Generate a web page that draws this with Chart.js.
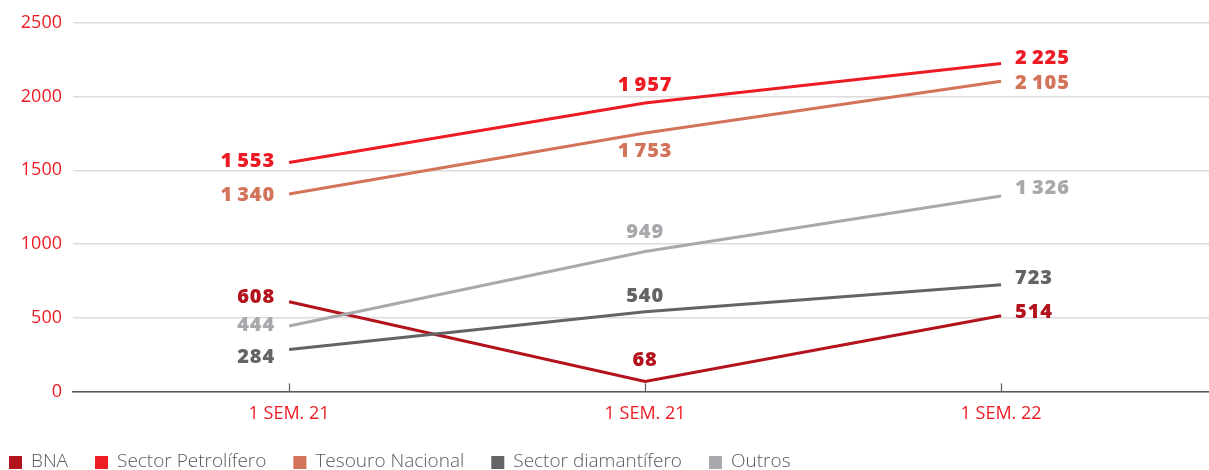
<!DOCTYPE html>
<html>
<head>
<meta charset="utf-8">
<script src="https://cdn.jsdelivr.net/npm/chart.js@4"></script>
<style>
html,body{margin:0;padding:0;background:#fff;}
#wrap{width:1209px;height:470px;position:relative;}
</style>
</head>
<body>
<div id="wrap"><canvas id="c" width="1209" height="470"></canvas></div>
<script>
// ---- data ----
const categories = ["1 SEM. 21", "1 SEM. 21", "1 SEM. 22"];
const seriesNames = ["BNA", "Sector Petrolífero", "Tesouro Nacional", "Sector diamantífero", "Outros"];
const bna = [608, 68, 514];
const petrolifero = [1553, 1957, 2225];
const tesouro = [1340, 1753, 2105];
const diamantifero = [284, 540, 723];
const outros = [444, 949, 1326];
const yTicks = [0, 500, 1000, 1500, 2000, 2500];

// ---- styles ----
const colors = ["#b3131c", "#ed1c24", "#d2735a", "#636466", "#a7a9ac"];
const FONT = "'Open Sans', Lato, sans-serif";
// label placement per dataset per point: [dx, dy, align]
const labelPlacement = [
  [[-14, -5, "right"], [0, -21, "center"], [14, -3, "left"]],
  [[-14, -1, "right"], [0, -18, "center"], [14, -5, "left"]],
  [[-14, 1, "right"], [0, 18, "center"], [14, 2, "left"]],
  [[-14, 8, "right"], [0, -16, "center"], [14, -7, "left"]],
  [[-14, -1, "right"], [0, -19, "center"], [14, -8, "left"]]
];
const seriesValues = [bna, petrolifero, tesouro, diamantifero, outros];

function fmt(v) {
  return String(v).replace(/\B(?=(\d{3})+(?!\d))/g, "\u2009");
}

const labelPlugin = {
  id: "valueLabels",
  afterDatasetsDraw(chart) {
    const ctx = chart.ctx;
    ctx.save();
    ctx.font = "800 20px " + FONT;
    ctx.letterSpacing = "0.9px";
    ctx.textBaseline = "middle";
    chart.data.datasets.forEach((ds, di) => {
      const meta = chart.getDatasetMeta(di);
      meta.data.forEach((pt, i) => {
        const p = labelPlacement[di][i];
        ctx.fillStyle = colors[di];
        ctx.textAlign = p[2];
        ctx.fillText(fmt(ds.data[i].y), pt.x + p[0], pt.y + p[1]);
      });
    });
    ctx.restore();
  }
};

const tickMarkPlugin = {
  id: "innerTicks",
  afterDraw(chart) {
    const xs = chart.scales.x;
    const ctx = chart.ctx;
    const bottom = chart.chartArea.bottom;
    ctx.save();
    ctx.strokeStyle = "#58595b";
    ctx.lineWidth = 1.2;
    categories.forEach((c, i) => {
      const x = Math.round(xs.getPixelForValue(i)) + 0.5;
      ctx.beginPath();
      ctx.moveTo(x, bottom - 8);
      ctx.lineTo(x, bottom);
      ctx.stroke();
    });
    ctx.restore();
  }
};

const legendPlugin = {
  id: "customLegend",
  afterDraw(chart) {
    const ctx = chart.ctx;
    ctx.save();
    ctx.font = "300 19px " + FONT;
    ctx.textBaseline = "middle";
    ctx.textAlign = "left";
    let x = 9;
    const yc = 462;
    chart.data.datasets.forEach((ds, i) => {
      ctx.fillStyle = colors[i];
      ctx.fillRect(x, yc - 6, 13, 13);
      x += 13 + 9;
      ctx.fillStyle = "#58595b";
      ctx.fillText(ds.label, x, yc);
      x += ctx.measureText(ds.label).width + 27;
    });
    ctx.restore();
  }
};

const datasets = seriesNames.map((name, di) => ({
  label: name,
  data: seriesValues[di].map((v, i) => ({ x: i, y: v })),
  borderColor: colors[di],
  backgroundColor: colors[di],
  borderWidth: 3,
  pointRadius: 0,
  pointHoverRadius: 0,
  tension: 0,
  order: 5 - di
}));

new Chart(document.getElementById("c"), {
  type: "line",
  data: { datasets },
  plugins: [labelPlugin, tickMarkPlugin, legendPlugin],
  options: {
    responsive: false,
    animation: false,
    events: [],
    layout: { padding: { top: 23, right: 0, left: 0, bottom: 33 } },
    plugins: {
      tooltip: { enabled: false },
      legend: { display: false }
    },
    scales: {
      x: {
        type: "linear",
        min: -0.607,
        max: 2.584,
        afterBuildTicks(scale) {
          scale.ticks = categories.map((c, i) => ({ value: i }));
        },
        ticks: {
          callback: (v) => categories[v],
          color: "#ed1c24",
          font: { family: FONT, size: 18 },
          padding: 12,
          maxRotation: 0,
          autoSkip: false
        },
        grid: { display: false, drawTicks: false },
        border: { display: true, color: "#58595b", width: 1.5 }
      },
      y: {
        min: 0,
        max: 2500,
        afterBuildTicks(scale) {
          scale.ticks = yTicks.map(v => ({ value: v }));
        },
        afterFit(scale) { scale.width = 73; },
        ticks: {
          callback: (v) => String(v),
          color: "#ed1c24",
          font: { family: FONT, size: 18 },
          padding: 11
        },
        grid: { color: "#dcdcdc", lineWidth: 1.5, drawTicks: false },
        border: { display: false }
      }
    }
  }
});
</script>
</body>
</html>
